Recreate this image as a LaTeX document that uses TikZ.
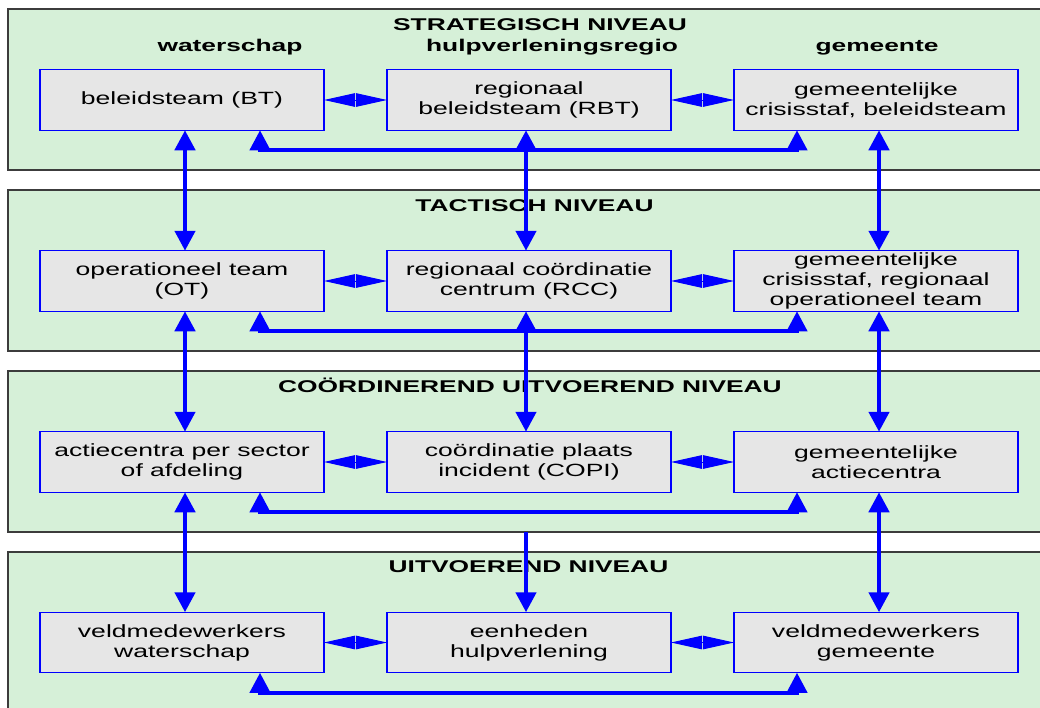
\documentclass[tikz,border=0pt]{standalone}
\usepackage{fontspec}
\setmainfont{Liberation Sans}
\newfontfamily\boxfont[FakeStretch=1.5]{Liberation Sans}
\newfontfamily\titlefont[FakeStretch=1.55]{Liberation Sans}
\usetikzlibrary{arrows.meta,calc}
\definecolor{bandgreen}{RGB}{214,240,216}
\definecolor{boxgrey}{RGB}{230,230,230}
\definecolor{linkblue}{RGB}{0,0,255}
\definecolor{bandline}{RGB}{60,60,60}
\tikzset{
  band/.style={draw=bandline, line width=1.1pt, fill=bandgreen},
  unitbox/.style={draw=linkblue, line width=1.2pt, fill=boxgrey, minimum width=284pt, minimum height=60.5pt,
    inner sep=0pt, outer sep=0pt, align=center, font=\boxfont\fontsize{17.7pt}{20pt}\selectfont},
  leveltitle/.style={anchor=base, inner sep=0pt, font=\titlefont\bfseries\fontsize{17pt}{20pt}\selectfont},
  hlink/.style={draw=linkblue, fill=linkblue, line width=1pt,
    {Triangle[length=31pt,width=13.5pt]}-{Triangle[length=31pt,width=13.5pt]}},
  vlink/.style={draw=linkblue, fill=linkblue, line width=4.5pt,
    {Triangle[length=20pt,width=20pt]}-{Triangle[length=20pt,width=20pt]}},
  vlinkone/.style={draw=linkblue, fill=linkblue, line width=4.5pt, -{Triangle[length=20pt,width=20pt]}},
  bracket/.style={draw=linkblue, fill=linkblue, line width=4pt,
    {Triangle[length=20pt,width=20pt]}-{Triangle[length=20pt,width=20pt]}}
}
\begin{document}
\begin{tikzpicture}[x=1pt,y=-1pt]
\useasboundingbox (0,0) rectangle (1040,707);
% bands
\draw[band] (8,9) rectangle (1050,170);
\draw[band] (8,190) rectangle (1050,351);
\draw[band] (8,371) rectangle (1050,532);
\draw[band] (8,552) rectangle (1050,720);
% level titles
\node[leveltitle] (t1) at (540,30.7) {STRATEGISCH NIVEAU};
\node[leveltitle] (h1) at (230,51) {waterschap};
\node[leveltitle] (h2) at (552,51) {hulpverleningsregio};
\node[leveltitle] (h3) at (877,51) {gemeente};
\node[leveltitle] (t2) at (534.5,211.7) {TACTISCH NIVEAU};
\node[leveltitle] (t3) at (530,392.3) {COÖRDINEREND UITVOEREND NIVEAU};
\node[leveltitle] (t4) at (528.5,572.7) {UITVOEREND NIVEAU};
% boxes
\node[unitbox] (bt)   at (182,100) {beleidsteam (BT)};
\node[unitbox] (rbt)  at (529,100) {regionaal\\beleidsteam (RBT)};
\node[unitbox] (gc)   at (876,100) {gemeentelijke\\crisisstaf, beleidsteam};
\node[unitbox] (ot)   at (182,281) {operationeel team\\(OT)};
\node[unitbox] (rcc)  at (529,281) {regionaal coördinatie\\centrum (RCC)};
\node[unitbox] (gco)  at (876,281) {gemeentelijke\\crisisstaf, regionaal\\operationeel team};
\node[unitbox] (ac)   at (182,462) {actiecentra per sector\\of afdeling};
\node[unitbox] (copi) at (529,462) {coördinatie plaats\\incident (COPI)};
\node[unitbox] (gac)  at (876,462) {gemeentelijke\\actiecentra};
\node[unitbox] (vw)   at (182,642.5) {veldmedewerkers\\waterschap};
\node[unitbox] (eh)   at (529,642.5) {eenheden\\hulpverlening};
\node[unitbox] (vg)   at (876,642.5) {veldmedewerkers\\gemeente};
% horizontal links
\foreach \a/\b in {bt/rbt,rbt/gc,ot/rcc,rcc/gco,ac/copi,copi/gac,vw/eh,eh/vg}{
  \draw[hlink] (\a.east) -- (\b.west);
}
% brackets
\foreach \a/\b in {bt/gc,ot/gco,ac/gac,vw/vg}{
  \draw[bracket] ($(\a.south)+(78,0)$) -- ++(0,20) -| ($(\b.south)+(-79,0)$);
}
% vertical links
\foreach \a/\b in {bt/ot,ot/ac,ac/vw}{
  \draw[vlink] ($(\a.south)+(3,0)$) -- ($(\b.north)+(3,0)$);
}
\foreach \a/\b in {gc/gco,gco/gac,gac/vg}{
  \draw[vlink] ($(\a.south)+(3,0)$) -- ($(\b.north)+(3,0)$);
}
\draw[vlink] ($(rbt.south)+(-3,0)$) -- ($(rcc.north)+(-3,0)$);
\draw[vlink] ($(rcc.south)+(-3,0)$) -- ($(copi.north)+(-3,0)$);
\coordinate (c34) at (526,532);
\draw[vlinkone] (c34) -- ($(eh.north)+(-3,0)$);
\end{tikzpicture}
\end{document}
